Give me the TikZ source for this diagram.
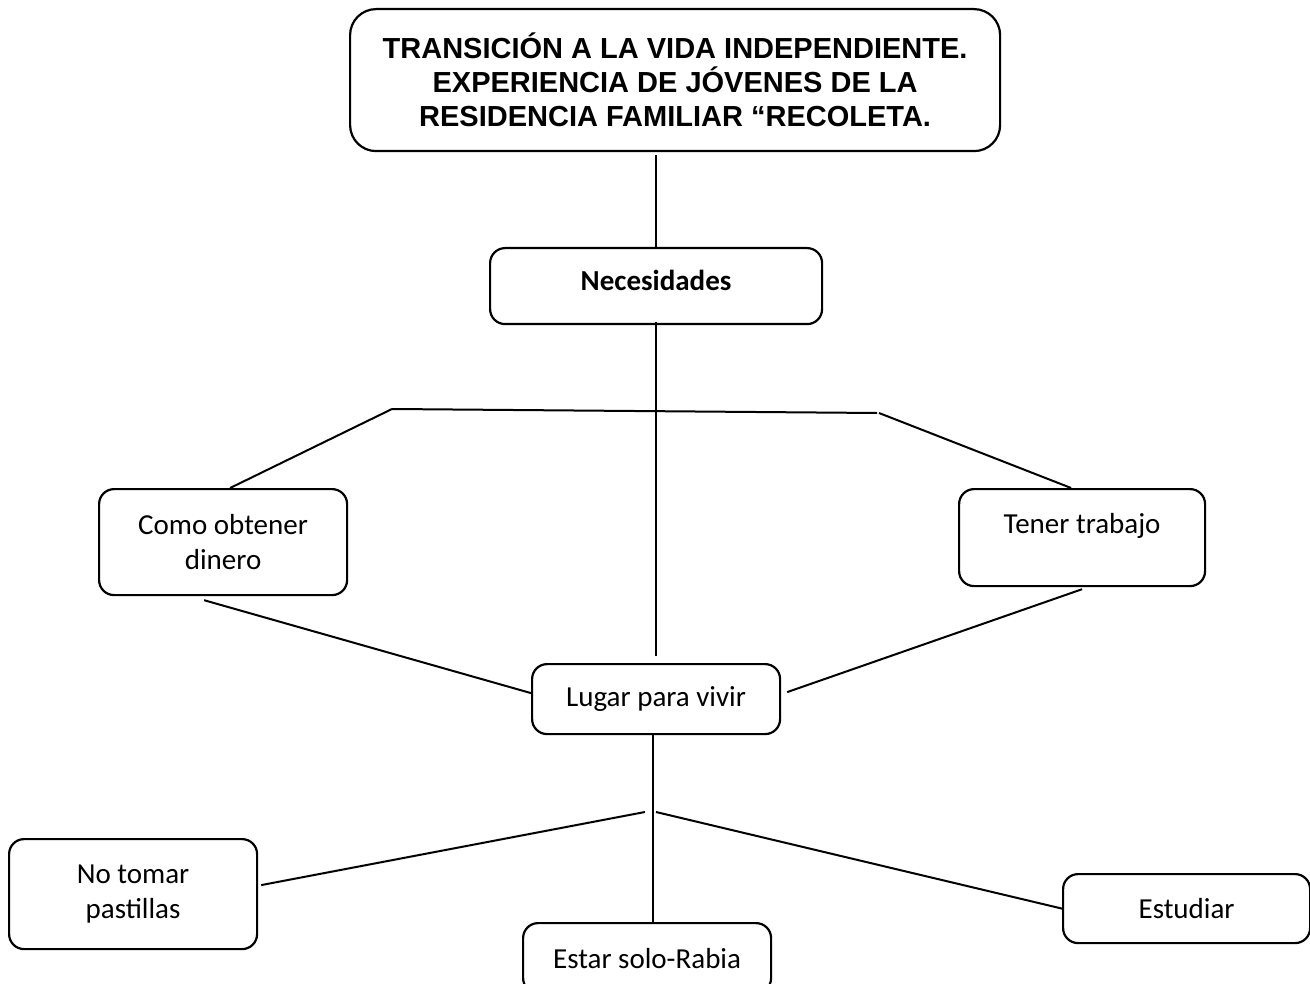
\documentclass[tikz,border=0pt]{standalone}
\usepackage{fontspec}
\setmainfont{Carlito}
\newfontfamily\arialf{Liberation Sans}
\begin{document}
\begin{tikzpicture}[x=1pt,y=-1pt,
  box/.style={draw,line width=2.2pt,rounded corners=15pt,anchor=north west,inner sep=0pt,
    align=center,font=\fontsize{29}{35}\selectfont},
  link/.style={line width=2pt}]
\useasboundingbox (0,0) rectangle (1310,984);
\node[box,rounded corners=26pt,minimum width=650pt,minimum height=142pt,
  font=\arialf\bfseries\fontsize{29}{34}\selectfont] (title) at (349,8)
  {TRANSICIÓN A LA VIDA INDEPENDIENTE.\\EXPERIENCIA DE JÓVENES DE LA\\RESIDENCIA FAMILIAR “RECOLETA.};
\node[box,minimum width=332pt,minimum height=76pt,font=\bfseries\fontsize{29}{35}\selectfont] (nec) at (489,247) {\raisebox{12pt}{Necesidades}};
\node[box,minimum width=248pt,minimum height=106pt] (como) at (98,488) {Como obtener\\dinero};
\node[box,minimum width=246pt,minimum height=97pt] (tener) at (958,488) {\raisebox{28pt}{Tener trabajo}};
\node[box,minimum width=248pt,minimum height=70pt] (lugar) at (531,663) {Lugar para vivir};
\node[box,minimum width=248pt,minimum height=110pt] (notomar) at (8,838) {No tomar\\pastillas};
\node[box,minimum width=248pt,minimum height=70pt] (estar) at (522,922) {Estar solo-Rabia};
\node[box,minimum width=247pt,minimum height=69pt] (estudiar) at (1062,873) {Estudiar};
\coordinate (j1) at (392,409);
\coordinate (j2) at (877,413);
\coordinate (j3) at (879,413);
\coordinate (j4) at (645,812);
\coordinate (j5) at (656,812);
\draw[link] (nec.north) -- ++(0,-92);
\draw[link] ([yshift=3pt]nec.south) -- ([yshift=7pt]lugar.north);
\draw[link] (j1) -- (j2);
\draw[link] (j1) -- ([xshift=7pt]como.north);
\draw[link] (j3) -- ([xshift=-11pt]tener.north);
\draw[link] ([xshift=-19pt,yshift=-4pt]como.south) -- ([yshift=6pt]lugar.west);
\draw[link] ([yshift=-2pt]tener.south) -- ([xshift=6pt,yshift=7pt]lugar.east);
\draw[link] ([xshift=-3pt]lugar.south) -- ([xshift=6pt]estar.north);
\draw[link] ([xshift=3pt,yshift=9pt]notomar.east) -- (j4);
\draw[link] (j5) -- (estudiar.west);
\end{tikzpicture}
\end{document}
